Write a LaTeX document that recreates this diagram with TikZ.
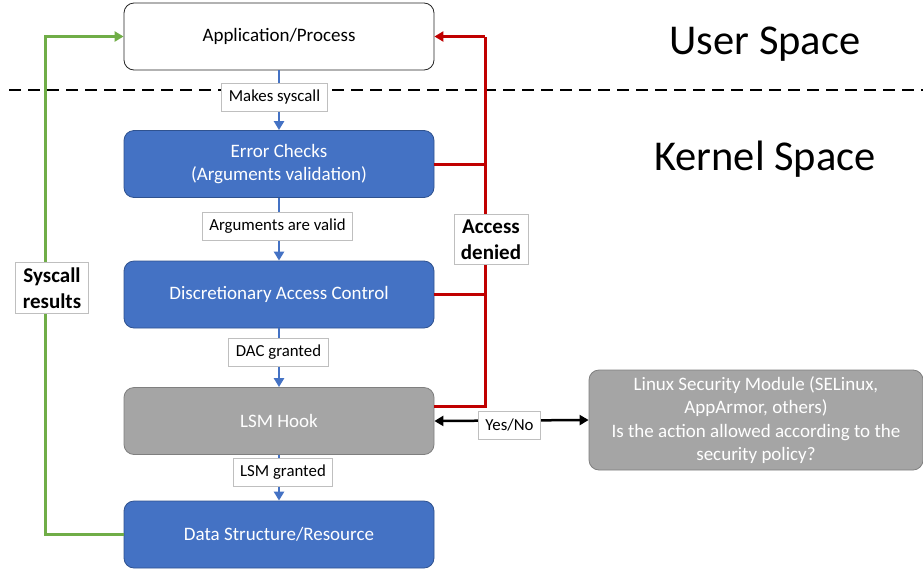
\documentclass[tikz,border=0pt]{standalone}
\usepackage{fontspec}
\setmainfont{Carlito}
\usetikzlibrary{arrows.meta}
\definecolor{cblue}{HTML}{4472C4}
\definecolor{cblueb}{HTML}{2F528F}
\definecolor{cgray}{HTML}{A5A5A5}
\definecolor{cgrayb}{HTML}{7F7F7F}
\definecolor{cred}{HTML}{C00000}
\definecolor{cgreen}{HTML}{70AD47}
\definecolor{clab}{HTML}{BFBFBF}
\tikzset{
  box/.style={rounded corners=10pt, minimum width=310pt, minimum height=67pt, align=center, font=\fontsize{19}{23}\selectfont, line width=0.8pt},
  bluebox/.style={box, fill=cblue, draw=cblueb, text=white},
  graybox/.style={box, fill=cgray, draw=cgrayb, text=white},
  lab/.style={fill=white, draw=clab, line width=0.8pt, font=\fontsize{16.8}{20}\selectfont, minimum height=28pt, inner xsep=7pt},
  blab/.style={fill=white, draw=clab, line width=0.8pt, font=\fontsize{21}{26}\selectfont\bfseries, align=center, inner xsep=7pt, inner ysep=5pt},
  bluearrow/.style={draw=cblue, line width=2.5pt, -{Triangle[length=9pt,width=10pt]}},
  redline/.style={draw=cred, line width=3pt},
  greenline/.style={draw=cgreen, line width=3pt},
  tip/.style={-{Triangle[length=9pt,width=10pt]}},
}
\begin{document}
\begin{tikzpicture}[x=1pt,y=-1pt]
\useasboundingbox (0,0) rectangle (923,571);
% dashed separator
\draw[line width=2.5pt, dash pattern=on 12pt off 7pt] (9,90) -- (923,90);
% titles
\node[font=\fontsize{42.5}{50}\selectfont] (us) at (765,44) {User Space};
\node[font=\fontsize{42.5}{50}\selectfont] (ks) at (765,159) {Kernel Space};
% boxes
\node[box, fill=white, draw=black!85, text=black] (app) at (279,36.5) {Application/Process};
\node[bluebox] (err) at (279,164) {Error Checks\\(Arguments validation)};
\node[bluebox] (dac) at (279,294.5) {Discretionary Access Control};
\node[graybox] (lsm) at (279,421) {LSM Hook};
\node[bluebox] (data) at (279,534.5) {Data Structure/Resource};
\node[box, fill=cgray, draw=cgrayb, text=white, minimum width=334pt, minimum height=100pt, font=\fontsize{19}{23.5}\selectfont] (mod) at (756,420) {Linux Security Module (SELinux,\\AppArmor, others)\\Is the action allowed according to the\\security policy?};
% blue flow
\draw[bluearrow] (app.south) -- (err.north);
\draw[bluearrow] (err.south) -- (dac.north);
\draw[bluearrow] (dac.south) -- (lsm.north);
\draw[bluearrow] (lsm.south) -- (data.north);
% red access denied
\coordinate (rtop) at (485,36.5);
\draw[redline] (err.east) -- (err.east -| rtop);
\draw[redline] (dac.east) -- (dac.east -| rtop);
\draw[redline] ([yshift=15pt]lsm.east) -- ([yshift=15pt]lsm.east -| rtop) -- (rtop);
\draw[redline, tip] (rtop) -- (app.east);
% green results
\coordinate (gl) at (45,0);
\draw[greenline, tip] (data.west) -- (data.west -| gl) -- (app.west -| gl) -- (app.west);
% black yes/no
\draw[line width=2.5pt, {Triangle[length=9pt,width=10pt]}-{Triangle[length=9pt,width=10pt]}] (lsm.east) -- (mod.west);
% labels
\node[lab] (l1) at (274.5,97) {Makes syscall};
\node[lab] (l2) at (277.5,226) {Arguments are valid};
\node[lab] (l3) at (278.5,352) {DAC granted};
\node[lab] (l4) at (283,472) {LSM granted};
\node[lab] (l5) at (509.5,425.5) {Yes/No};
\node[blab] (sr) at (52,288) {Syscall\\results};
\node[blab] (ad) at (491,239.5) {Access\\denied};
\end{tikzpicture}
\end{document}
